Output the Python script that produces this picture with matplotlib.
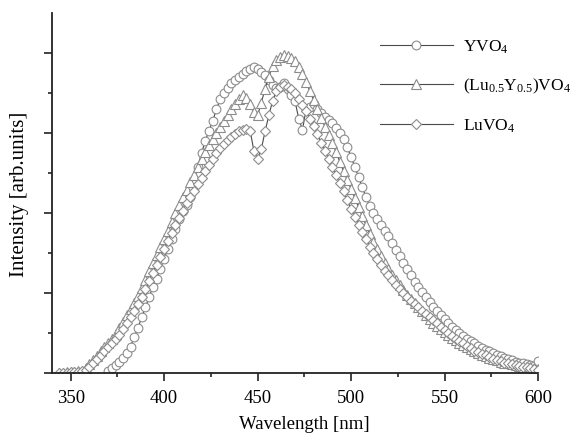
import numpy as np
import matplotlib
matplotlib.use('Agg')
from matplotlib import pyplot as plt

plt.rcParams['font.family'] = ['Liberation Serif', 'DejaVu Serif']
plt.rcParams['mathtext.fontset'] = 'custom'
plt.rcParams['mathtext.rm'] = 'Liberation Serif'
plt.rcParams['mathtext.it'] = 'Liberation Serif:italic'

# wavelength grids [nm]
wl = np.arange(344, 601, 2)
wl_y = np.arange(370, 601, 2)

# (Lu0.5Y0.5)VO4, 344..600 nm
lu_y = [0.00, 0.00, 0.01, 0.01, 0.01, 0.02, 0.03, 0.06, 0.11, 0.16,
        0.21, 0.27, 0.33, 0.38, 0.43, 0.49, 0.56, 0.64, 0.72, 0.80,
        0.88, 0.96, 1.06, 1.16, 1.27, 1.38, 1.48, 1.58, 1.68, 1.78,
        1.89, 2.00, 2.10, 2.20, 2.29, 2.39, 2.48, 2.58, 2.67, 2.76,
        2.85, 2.93, 3.00, 3.08, 3.15, 3.22, 3.30, 3.36, 3.42, 3.47,
        3.44, 3.36, 3.26, 3.22, 3.38, 3.55, 3.70, 3.84, 3.91, 3.95,
        3.97, 3.96, 3.94, 3.90, 3.83, 3.74, 3.64, 3.52, 3.41, 3.30,
        3.19, 3.08, 2.98, 2.88, 2.76, 2.64, 2.52, 2.41, 2.30, 2.19,
        2.07, 1.96, 1.85, 1.74, 1.64, 1.55, 1.46, 1.38, 1.30, 1.23,
        1.16, 1.10, 1.04, 0.98, 0.93, 0.88, 0.83, 0.78, 0.73, 0.68,
        0.63, 0.59, 0.55, 0.51, 0.47, 0.44, 0.41, 0.38, 0.35, 0.32,
        0.30, 0.27, 0.25, 0.23, 0.21, 0.19, 0.18, 0.16, 0.14, 0.13,
        0.12, 0.11, 0.10, 0.09, 0.08, 0.08, 0.07, 0.06, 0.05]

# LuVO4, 344..600 nm
luvo = [0.00, 0.00, 0.00, 0.01, 0.01, 0.01, 0.02, 0.04, 0.08, 0.12,
        0.17, 0.22, 0.27, 0.32, 0.37, 0.42, 0.48, 0.55, 0.62, 0.70,
        0.78, 0.86, 0.95, 1.05, 1.15, 1.25, 1.35, 1.45, 1.55, 1.65,
        1.75, 1.85, 1.94, 2.03, 2.12, 2.20, 2.28, 2.36, 2.44, 2.52,
        2.60, 2.68, 2.75, 2.81, 2.86, 2.91, 2.95, 2.99, 3.02, 3.04,
        3.05, 3.03, 2.78, 2.68, 2.80, 3.02, 3.22, 3.40, 3.52, 3.58,
        3.60, 3.58, 3.55, 3.50, 3.43, 3.35, 3.27, 3.18, 3.09, 2.99,
        2.88, 2.78, 2.68, 2.57, 2.47, 2.37, 2.27, 2.16, 2.05, 1.95,
        1.85, 1.76, 1.67, 1.58, 1.50, 1.42, 1.35, 1.28, 1.22, 1.16,
        1.10, 1.05, 1.00, 0.95, 0.90, 0.86, 0.82, 0.78, 0.74, 0.70,
        0.66, 0.62, 0.58, 0.54, 0.50, 0.46, 0.43, 0.40, 0.37, 0.34,
        0.31, 0.28, 0.26, 0.24, 0.22, 0.20, 0.18, 0.16, 0.15, 0.13,
        0.12, 0.11, 0.10, 0.09, 0.08, 0.07, 0.06, 0.05, 0.04]

# YVO4, 370..600 nm
yvo = [0.03, 0.06, 0.10, 0.14, 0.19, 0.25, 0.33, 0.45, 0.56, 0.70,
       0.82, 0.95, 1.08, 1.18, 1.30, 1.43, 1.55, 1.68, 1.80, 1.92,
       2.02, 2.10, 2.20, 2.38, 2.58, 2.75, 2.90, 3.03, 3.15, 3.30,
       3.42, 3.50, 3.56, 3.62, 3.66, 3.70, 3.74, 3.77, 3.80, 3.83,
       3.80, 3.76, 3.72, 3.66, 3.60, 3.56, 3.58, 3.62, 3.55, 3.48,
       3.40, 3.18, 3.04, 3.30, 3.32, 3.36, 3.30, 3.25, 3.20, 3.16,
       3.12, 3.06, 3.00, 2.92, 2.82, 2.70, 2.58, 2.45, 2.32, 2.20,
       2.09, 2.00, 1.92, 1.85, 1.78, 1.71, 1.62, 1.54, 1.46, 1.38,
       1.30, 1.22, 1.14, 1.08, 1.01, 0.95, 0.89, 0.83, 0.77, 0.72,
       0.67, 0.62, 0.58, 0.54, 0.50, 0.46, 0.43, 0.40, 0.37, 0.34,
       0.31, 0.29, 0.27, 0.25, 0.23, 0.21, 0.19, 0.17, 0.16, 0.14,
       0.13, 0.12, 0.11, 0.10, 0.09, 0.15]

labels = ['YVO$_4$', '(Lu$_{0.5}$Y$_{0.5}$)VO$_4$', 'LuVO$_4$']

fig = plt.figure(figsize=(5.74, 4.44), dpi=100)
ax = fig.add_axes([0.0906, 0.160, 0.8466, 0.8107])

edge = '#8c8c8c'
line = '#4a4a4a'
style = dict(color=line, lw=0.8, mfc='white', mec=edge, mew=0.8)
ax.plot(wl_y, yvo, marker='o', ms=6.3, label=labels[0], **style)
ax.plot(wl, lu_y, marker='^', ms=7, label=labels[1], **style)
ax.plot(wl, luvo, marker='D', ms=5.2, label=labels[2], **style)

ax.set_xlim(340, 600)
ax.set_ylim(0, 4.5)
ax.set_xticks([350, 400, 450, 500, 550, 600])
ax.set_xticks([375, 425, 475, 525, 575], minor=True)
ax.set_yticks([0, 1, 2, 3, 4])
ax.set_yticks([0.5, 1.5, 2.5, 3.5], minor=True)
ax.set_yticklabels([])
ax.spines['top'].set_visible(False)
ax.spines['right'].set_visible(False)
for s in ['left', 'bottom']:
    ax.spines[s].set_linewidth(1.3)
    ax.spines[s].set_color('#222222')
ax.tick_params(which='major', length=5.5, width=1.2, labelsize=13.5, color='#222222')
ax.tick_params(which='minor', length=3, width=1.2, color='#222222')
ax.tick_params(axis='x', pad=7)

ax.set_xlabel('Wavelength [nm]', fontsize=13.5)
ax.set_ylabel('Intensity [arb.units]', fontsize=15)
ax.xaxis.set_label_coords(0.52, -0.12)
ax.yaxis.set_label_coords(-0.047, 0.495)

ax.legend(loc='upper left', bbox_to_anchor=(0.675, 0.93), frameon=False,
          fontsize=12.5, handlelength=4.2, handletextpad=0.6,
          labelspacing=1.22, borderpad=0, borderaxespad=0)

fig.savefig('out.png', dpi=100)
